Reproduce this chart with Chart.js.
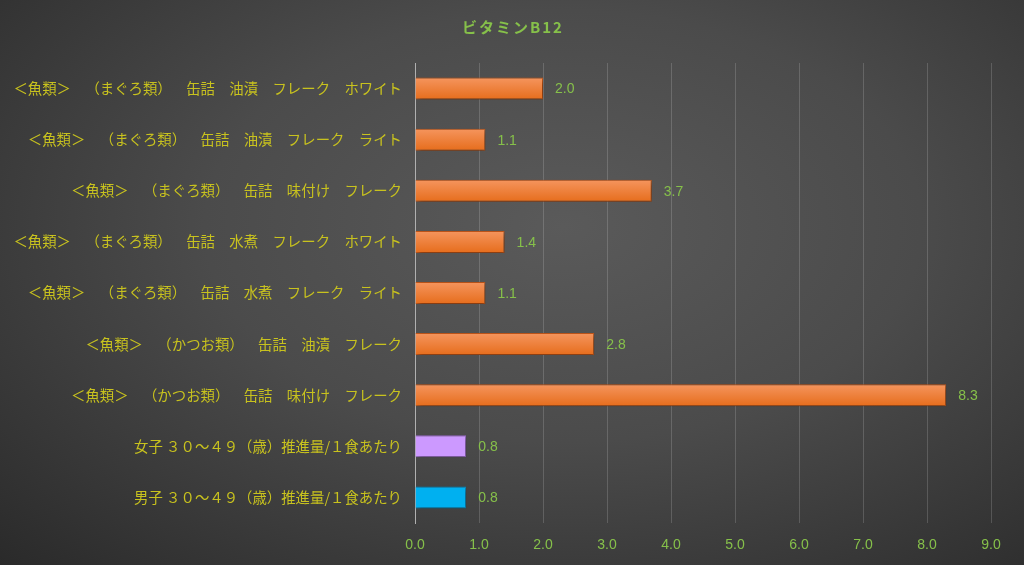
<!DOCTYPE html>
<html>
<head>
<meta charset="utf-8">
<script src="https://cdn.jsdelivr.net/npm/chart.js@4"></script>
<style>
  html, body { margin: 0; padding: 0; }
  body {
    width: 1024px; height: 565px; overflow: hidden;
    background: radial-gradient(ellipse at 55% 40%, #5a5a5a 0%, #4b4b4b 45%, #2a2a2a 100%);
    text-spacing-trim: space-all;
    font-kerning: none;
  }
  canvas { text-spacing-trim: space-all; font-kerning: none; }
  #wrap { position: relative; width: 1024px; height: 565px; }
</style>
</head>
<body>
<div id="wrap"><canvas id="vitChart"></canvas></div>
<script>
// カテゴリ（上から順）
const categories = [
    '＜魚類＞　（まぐろ類）　缶詰　油漬　フレーク　ホワイト',
    '＜魚類＞　（まぐろ類）　缶詰　油漬　フレーク　ライト',
    '＜魚類＞　（まぐろ類）　缶詰　味付け　フレーク',
    '＜魚類＞　（まぐろ類）　缶詰　水煮　フレーク　ホワイト',
    '＜魚類＞　（まぐろ類）　缶詰　水煮　フレーク　ライト',
    '＜魚類＞　（かつお類）　缶詰　油漬　フレーク',
    '＜魚類＞　（かつお類）　缶詰　味付け　フレーク',
    '女子 ３０～４９（歳）推進量/１食あたり',
    '男子 ３０～４９（歳）推進量/１食あたり'
];
// ビタミンB12 の値
const values = [2.0, 1.1, 3.7, 1.4, 1.1, 2.8, 8.3, 0.8, 0.8];
const xTicks = [0, 1, 2, 3, 4, 5, 6, 7, 8, 9];
const chartTitle = 'ビタミンB12';

const labelColor = '#c8c21e';
const valueColor = '#86c04a';

// 棒の色（推奨量は紫・水色、それ以外はオレンジのグラデーション）
function barFill(ctx) {
    const i = ctx.dataIndex;
    if (i === 7) return '#cc99ff';
    if (i === 8) return '#00b0f0';
    const ys = ctx.chart.scales.y;
    const cy = ys ? ys.getPixelForValue(i) : NaN;
    if (!Number.isFinite(cy)) return '#ed7d31';
    const g = ctx.chart.ctx.createLinearGradient(0, cy - 11, 0, cy + 11);
    g.addColorStop(0, '#f5955e');
    g.addColorStop(1, '#e66d1c');
    return g;
}
function barBorder(ctx) {
    const i = ctx.dataIndex;
    if (i === 7) return '#9c6ccc';
    if (i === 8) return '#0a90c8';
    return '#c4581a';
}

// カーニングを切る（全角括弧の詰めを防ぐ）
const noKerning = {
    id: 'noKerning',
    beforeDraw(chart) {
        chart.ctx.fontKerning = 'none';
    }
};

// タイトル（字間あり）
const titleText = {
    id: 'titleText',
    afterDraw(chart) {
        const c = chart.ctx;
        c.save();
        c.font = 'bold 15px "Noto Sans CJK JP"';
        c.fillStyle = valueColor;
        c.textAlign = 'center';
        c.textBaseline = 'middle';
        c.letterSpacing = '2px';
        c.fillText(chartTitle, chart.width / 2 + 1, 27);
        c.restore();
    }
};

// 値ラベル
const valueLabels = {
    id: 'valueLabels',
    afterDatasetsDraw(chart) {
        const c = chart.ctx;
        const meta = chart.getDatasetMeta(0);
        c.save();
        c.font = '14px "Liberation Sans", "Noto Sans"';
        c.fillStyle = valueColor;
        c.textAlign = 'left';
        c.textBaseline = 'middle';
        meta.data.forEach((bar, i) => {
            c.fillText(values[i].toFixed(1), bar.x + 12, bar.y + 1);
        });
        c.restore();
    }
};

// 棒の影
const barShadow = {
    id: 'barShadow',
    beforeDatasetDraw(chart) {
        const c = chart.ctx;
        c.save();
        c.shadowColor = 'rgba(0,0,0,0.45)';
        c.shadowBlur = 5;
        c.shadowOffsetX = 2;
        c.shadowOffsetY = 2;
    },
    afterDatasetDraw(chart) {
        chart.ctx.restore();
    }
};

const ctxVit = document.getElementById('vitChart').getContext('2d');
new Chart(ctxVit, {
    type: 'bar',
    data: {
        labels: categories,
        datasets: [{
            label: chartTitle,
            data: values,
            backgroundColor: barFill,
            borderColor: barBorder,
            borderWidth: 1,
            categoryPercentage: 1,
            barPercentage: 0.43
        }]
    },
    options: {
        indexAxis: 'y',
        responsive: true,
        maintainAspectRatio: false,
        animation: false,
        layout: {
            padding: { left: 0, right: 33, top: 63, bottom: 0 }
        },
        scales: {
            x: {
                min: 0,
                max: 9,
                afterBuildTicks: (s) => { s.ticks = xTicks.map(v => ({ value: v })); },
                afterFit: (s) => { s.height = 42; },
                ticks: {
                    color: valueColor,
                    font: { family: '"Liberation Sans", "Noto Sans"', size: 14 },
                    padding: 14,
                    callback: (v) => Number(v).toFixed(1)
                },
                grid: {
                    color: 'rgba(255,255,255,0.16)',
                    drawTicks: false
                },
                border: { display: false }
            },
            y: {
                afterFit: (s) => { s.width = 415; },
                ticks: {
                    color: labelColor,
                    font: { family: '"Noto Sans CJK JP"', size: 14.4 },
                    padding: 13
                },
                grid: { display: false, drawTicks: false },
                border: { color: '#b0b0b0', width: 1 }
            }
        },
        plugins: {
            legend: { display: false },
            tooltip: { enabled: false },
            title: { display: false }
        }
    },
    plugins: [noKerning, barShadow, valueLabels, titleText]
});
</script>
</body>
</html>
